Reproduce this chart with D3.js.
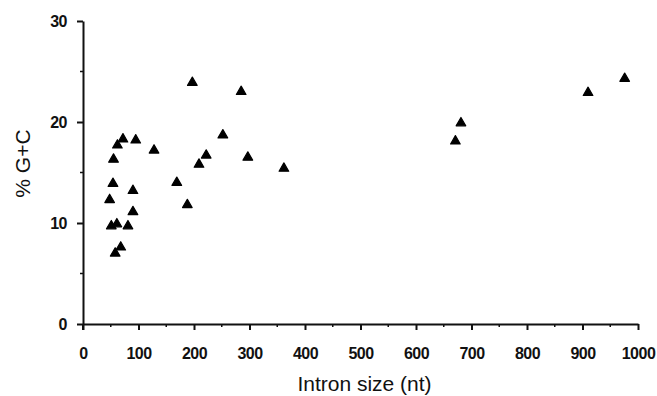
<!DOCTYPE html>
<html>
<head>
<meta charset="utf-8">
<script src="https://cdn.jsdelivr.net/npm/d3@7"></script>
<style>
  body { margin: 0; background: #fff; }
  svg { display: block; }
  .tick-label { font-family: "Liberation Sans", Arial, sans-serif; font-weight: bold; font-size: 16px; letter-spacing: -0.5px; fill: #111; }
  .axis-title { font-family: "Liberation Sans", Arial, sans-serif; font-size: 21px; fill: #111; }
</style>
</head>
<body>
<div class="chart"></div>
<script>
var svgWidth = 657;
var svgHeight = 396;

var margin = { top: 21, right: 19, bottom: 72, left: 83 };
var width = svgWidth - margin.left - margin.right;
var height = svgHeight - margin.top - margin.bottom;

// intron size (nt) and % G+C
var intronSize = [72, 95, 62, 128, 55, 54, 90, 48, 90, 51, 61, 81, 68, 58,
  197, 285, 252, 222, 297, 209, 362, 169, 188,
  976, 910, 681, 671];
var gcPercent = [18.3, 18.2, 17.7, 17.2, 16.3, 13.9, 13.2, 12.3, 11.1, 9.7, 9.9, 9.7, 7.6, 7.0,
  23.9, 23.0, 18.7, 16.7, 16.5, 15.8, 15.4, 14.0, 11.8,
  24.3, 22.9, 19.9, 18.1];

var xTicks = [0, 100, 200, 300, 400, 500, 600, 700, 800, 900, 1000];
var xMinor = [50, 150, 250, 350, 450, 550, 650, 750, 850, 950];
var yTicks = [0, 10, 20, 30];
var yMinor = [5, 15, 25];

var svg = d3.select(".chart")
  .append("svg")
  .attr("width", svgWidth)
  .attr("height", svgHeight);

var chartGroup = svg.append("g")
  .attr("transform", `translate(${margin.left}, ${margin.top})`);

var xScale = d3.scaleLinear().domain([0, 1000]).range([0, width]);
var yScale = d3.scaleLinear().domain([0, 30]).range([height, 0]);

// x axis
var xAxis = chartGroup.append("g")
  .attr("transform", `translate(0, ${height})`)
  .call(d3.axisBottom(xScale).tickValues(xTicks).tickSize(6).tickSizeOuter(0).tickFormat(d3.format("d")));

xAxis.selectAll(".minor")
  .data(xMinor)
  .enter()
  .append("line")
  .attr("x1", d => xScale(d))
  .attr("x2", d => xScale(d))
  .attr("y1", 0)
  .attr("y2", 3)
  .attr("stroke", "#111")
  .attr("stroke-width", 1.5);

// y axis
var yAxis = chartGroup.append("g")
  .call(d3.axisLeft(yScale).tickValues(yTicks).tickSize(6).tickSizeOuter(0));

yAxis.selectAll(".minor")
  .data(yMinor)
  .enter()
  .append("line")
  .attr("x1", 0)
  .attr("x2", -3)
  .attr("y1", d => yScale(d))
  .attr("y2", d => yScale(d))
  .attr("stroke", "#111")
  .attr("stroke-width", 1.5);

// y axis runs a little below the x axis (cross at origin)
chartGroup.append("line")
  .attr("x1", 0).attr("x2", 0)
  .attr("y1", yScale(0)).attr("y2", yScale(0) + 6)
  .attr("stroke", "#111")
  .attr("stroke-width", 2);

[xAxis, yAxis].forEach(function(ax) {
  ax.select(".domain").attr("stroke", "#111").attr("stroke-width", 2);
  ax.selectAll(".tick line").attr("stroke", "#111").attr("stroke-width", 2);
  ax.selectAll(".tick text").attr("class", "tick-label").attr("font-family", null).attr("font-size", null);
});
xAxis.selectAll(".tick text").attr("y", 29).attr("dy", "0.35em");
yAxis.selectAll(".tick text").attr("x", -16);

// points
var triangle = d3.symbol().type(d3.symbolTriangle).size(40);

chartGroup.selectAll(".pt")
  .data(intronSize)
  .enter()
  .append("path")
  .attr("class", "pt")
  .attr("d", triangle)
  .attr("transform", (d, i) => `translate(${xScale(d)}, ${yScale(gcPercent[i])})`)
  .attr("fill", "#000")
  .attr("stroke", "#000")
  .attr("stroke-width", 1.2)
  .attr("stroke-linejoin", "round");

// axis titles
chartGroup.append("text")
  .attr("class", "axis-title")
  .attr("x", width / 2 + 4)
  .attr("y", height + 67)
  .attr("text-anchor", "middle")
  .text("Intron size (nt)");

chartGroup.append("text")
  .attr("class", "axis-title")
  .attr("transform", "rotate(-90)")
  .attr("x", -(yScale(0) + yScale(30)) / 2 + 9)
  .attr("y", -53)
  .attr("text-anchor", "middle")
  .text("% G+C");
</script>
</body>
</html>
